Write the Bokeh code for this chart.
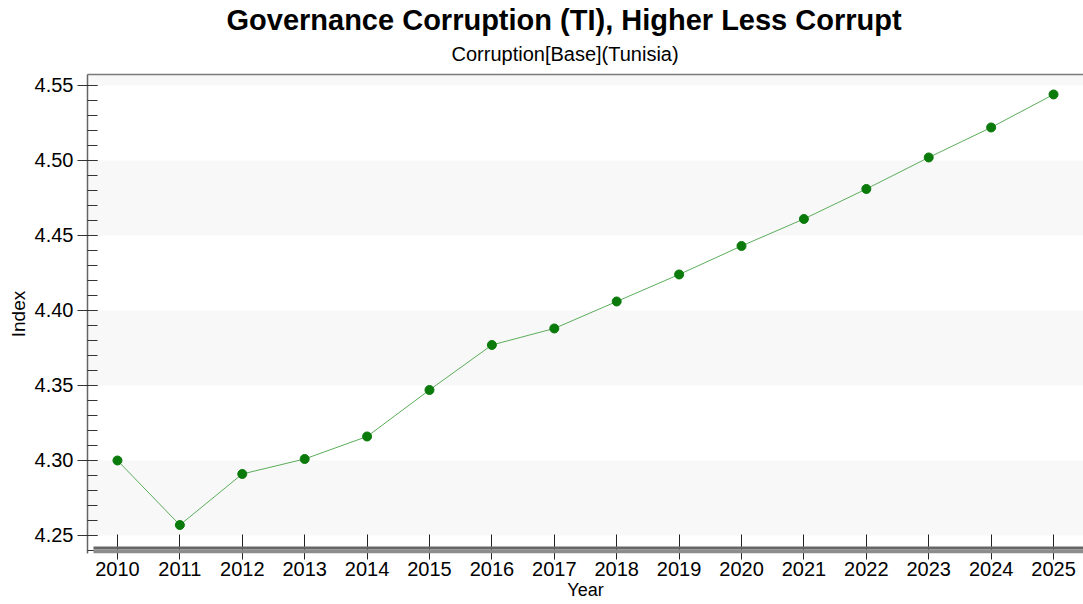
from bokeh.plotting import figure
from bokeh.models import (BoxAnnotation, SingleIntervalTicker, FixedTicker, Range1d,
                          NumeralTickFormatter, Title, LinearAxis)
from bokeh.embed import file_html
from bokeh.resources import INLINE

years = list(range(2010, 2026))
values = [4.300, 4.257, 4.291, 4.301, 4.316, 4.347, 4.377, 4.388,
          4.406, 4.424, 4.443, 4.461, 4.481, 4.502, 4.522, 4.544]
title_text = "Governance Corruption (TI), Higher Less Corrupt"
subtitle_text = "Corruption[Base](Tunisia)"
x_label = "Year"
y_label = "Index"

FONT = "Liberation Sans"
X0, X1 = 2009.52, 2025.48
Y0, Y1 = 4.238, 4.5573

p = figure(width=1083, height=604, output_backend="svg", toolbar_location=None,
           x_range=Range1d(X0, X1), y_range=Range1d(Y0, Y1),
           min_border_left=87, min_border_right=0, min_border_top=74, min_border_bottom=51)

xa = p.below[0]
ya = p.left[0]

# top border line (added first so it sits on the frame edge)
top_axis = LinearAxis(ticker=FixedTicker(ticks=[]), axis_line_color="#7a7a7a",
                      axis_line_width=1.5,
                      major_tick_line_color=None, minor_tick_line_color=None,
                      major_label_text_font_size="0px", major_label_standoff=0,
                      major_tick_in=0, major_tick_out=0, minor_tick_in=0, minor_tick_out=0)
p.add_layout(top_axis, "above")

p.title.text = title_text
p.title.text_font = FONT
p.title.text_font_size = "29px"
p.title.text_font_style = "bold"
p.title.text_color = "black"
p.title.align = "left"
p.title.offset = 139
p.title.standoff = -11
p.add_layout(Title(text=subtitle_text, text_font=FONT, text_font_size="20px",
                   text_font_style="normal", text_color="black", align="left",
                   offset=364, standoff=20), "above")

p.xgrid.visible = False
p.ygrid.visible = False
p.background_fill_color = "white"
p.border_fill_color = "white"
p.outline_line_color = None

for lo, hi in [(4.25, 4.30), (4.35, 4.40), (4.45, 4.50), (4.55, Y1)]:
    p.add_layout(BoxAnnotation(bottom=lo, top=hi, fill_color="#f8f8f8", fill_alpha=1,
                               line_alpha=0, level="underlay"))

# base bar (shadowed x axis)
p.add_layout(BoxAnnotation(bottom=4.2407, top=4.2427, left=X0 + 0.096, fill_color="#666666",
                           fill_alpha=1, line_alpha=0))
p.add_layout(BoxAnnotation(bottom=Y0, top=4.2407, left=X0 + 0.096, fill_color="#8c8c8c",
                           fill_alpha=1, line_alpha=0))

p.line(years, values, line_color="#5cad5c", line_width=1)
p.scatter(years, values, size=9, fill_color="#0a7a0a", line_color="#0a7a0a")

xa.ticker = FixedTicker(ticks=years)
xa.axis_line_color = None
xa.major_tick_in = 19
xa.major_tick_out = 6
xa.major_tick_line_color = "#222222"
xa.minor_tick_line_color = None
xa.major_label_text_font = FONT
xa.major_label_text_font_size = "20px"
xa.major_label_text_color = "black"
xa.major_label_standoff = 2
xa.axis_label = x_label
xa.axis_label_text_font = FONT
xa.axis_label_text_font_size = "18px"
xa.axis_label_text_color = "black"
xa.axis_label_text_font_style = "normal"
xa.axis_label_standoff = 1

ya.ticker = SingleIntervalTicker(interval=0.05, num_minor_ticks=5)
ya.formatter = NumeralTickFormatter(format="0.00")
ya.axis_line_color = "#666666"
ya.axis_line_width = 1.5
ya.major_tick_in = 10
ya.major_tick_out = 10
ya.minor_tick_in = 10
ya.minor_tick_out = 0
ya.major_tick_line_color = "#333333"
ya.minor_tick_line_color = "#333333"
ya.major_label_text_font = FONT
ya.major_label_text_font_size = "20px"
ya.major_label_text_color = "black"
ya.major_label_standoff = 4
ya.axis_label = y_label
ya.axis_label_text_font = FONT
ya.axis_label_text_font_size = "19px"
ya.axis_label_text_color = "black"
ya.axis_label_text_font_style = "normal"
ya.axis_label_standoff = 3

open("out.html", "w").write(file_html(p, INLINE))
